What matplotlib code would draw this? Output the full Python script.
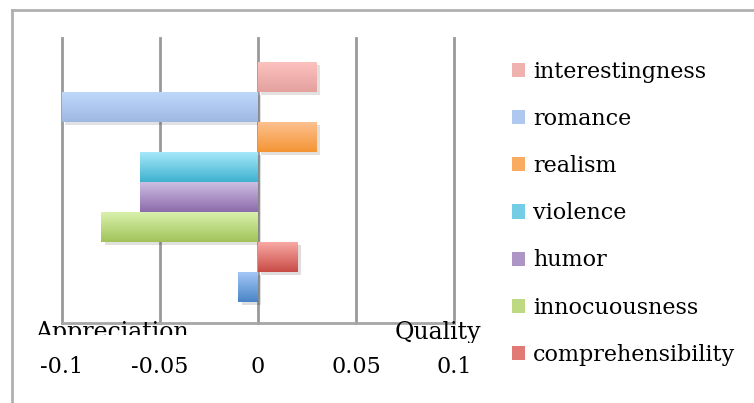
import numpy as np
import matplotlib.pyplot as plt
import matplotlib.patheffects as pe
from matplotlib.patches import Patch
from matplotlib.lines import Line2D
from matplotlib.transforms import Bbox, TransformedBbox

# data, top bar to bottom bar
labels = ['interestingness', 'romance', 'realism', 'violence', 'humor',
          'innocuousness', 'comprehensibility', '']
values = [0.03, -0.1, 0.03, -0.06, -0.06, -0.08, 0.02, -0.01]
top_colors = ['#fcc2bf', '#bed8fb', '#fdc08f', '#a6e8fb', '#cdbde2',
              '#d9f1ac', '#f8a8a3', '#a3c6f6']
bottom_colors = ['#e4a19e', '#9fb8e2', '#f49534', '#3fb1ce', '#8c6cab',
                 '#a1c35a', '#c94c47', '#4a85c6']
xticks = [-0.1, -0.05, 0, 0.05, 0.1]
xticklabels = ['-0.1', '-0.05', '0', '0.05', '0.1']

plt.rcParams['font.family'] = 'DejaVu Serif'

W, H = 754, 403
fig = plt.figure(figsize=(W / 100, H / 100), dpi=100)
ax = fig.add_axes([62 / W, (H - 323) / H, 392 / W, 285 / H])

n = len(values)
ypos = np.arange(n)[::-1]

def hex2rgb(h):
    return np.array([int(h[i:i + 2], 16) / 255 for i in (1, 3, 5)])

for y, v, c1, c2 in zip(ypos, values, top_colors, bottom_colors):
    bar = ax.barh(y, v, height=1.0, color=c2, zorder=2,
                  path_effects=[pe.SimplePatchShadow(offset=(2.5, -2.5), alpha=0.15),
                                pe.Normal()])[0]
    t = np.linspace(0, 1, 64)[:, None]
    grad = (1 - t) * hex2rgb(c1) + t * hex2rgb(c2)
    img = ax.imshow(grad[:, None, :], extent=(min(0, v), max(0, v), y - 0.5, y + 0.5),
                    origin='upper', aspect='auto', zorder=3, interpolation='bilinear')
    img.set_clip_path(bar)

ax.set_xlim(-0.1, 0.1)
ax.set_ylim(-1.2, n - 1 + 1.3)
ax.set_axisbelow(True)
ax.xaxis.grid(True, color='#999999', linewidth=2)
for gl in ax.get_xgridlines():
    gl.set_clip_on(False)
ax.set_yticks([])
ax.set_xticks(xticks)
ax.set_xticklabels(xticklabels, fontsize=16)
ax.tick_params(axis='x', length=0, pad=24)
for s in ['top', 'left', 'right']:
    ax.spines[s].set_visible(False)
ax.spines['bottom'].set_color('#a6a6a6')
ax.spines['bottom'].set_linewidth(2)

# category labels, cut off at the bottom like in the original
t1 = fig.text(35 / W, (H - 339) / H, 'Appreciation', fontsize=17, va='baseline')
t1.set_clip_box(TransformedBbox(Bbox([[0, (H - 335) / H], [1, 1]]), fig.transFigure))
t1.set_clip_on(True)
t2 = fig.text(395 / W, (H - 339) / H, 'Quality', fontsize=17, va='baseline')
t2.set_clip_box(TransformedBbox(Bbox([[0, (H - 343) / H], [1, 1]]), fig.transFigure))
t2.set_clip_on(True)

handles = [Patch(facecolor=(hex2rgb(a) + hex2rgb(b)) / 2, edgecolor='none')
           for a, b in zip(top_colors, bottom_colors)][:7]
fig.legend(handles, labels[:7], loc='upper left',
           bbox_to_anchor=(512 / W, (H - 61) / H), frameon=False, fontsize=16,
           handlelength=0.6, handleheight=0.6, handletextpad=0.35,
           labelspacing=1.13, borderaxespad=0, borderpad=0)

# outer frame
fig.add_artist(Line2D([12 / W, 1], [(H - 10) / H] * 2, color='#b0b0b0', lw=2,
                      transform=fig.transFigure))
fig.add_artist(Line2D([12 / W] * 2, [0, (H - 10) / H], color='#b0b0b0', lw=2,
                      transform=fig.transFigure))

fig.savefig('out.png', dpi=100)
